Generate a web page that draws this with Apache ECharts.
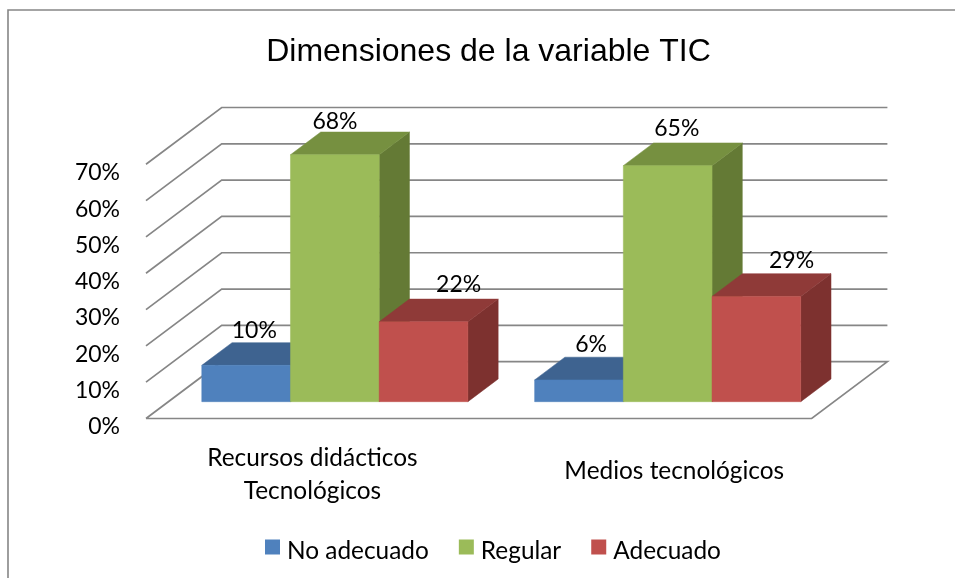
<!DOCTYPE html>
<html><head><meta charset="utf-8">
<style>html,body{margin:0;padding:0;background:#fff}#c{width:955px;height:578px}</style>
<script src="https://cdn.jsdelivr.net/npm/echarts@6/dist/echarts.min.js"></script>
</head><body><div id="c"></div>
<script>
const titleText = 'Dimensiones de la variable TIC';
const categories = ['Recursos didácticos\nTecnológicos', 'Medios tecnológicos'];
const seriesNames = ['No adecuado', 'Regular', 'Adecuado'];
const noAdecuado = [10, 6];
const regular = [68, 65];
const adecuado = [22, 29];
const ticks = [0, 10, 20, 30, 40, 50, 60, 70];

// hand-placed data-label nudges (px) relative to the top face of each bar
const labelNudge = [[[-7, 0], [-3, -1]], [[-15, 2], [-6, -2]], [[20, -2], [20, -1]]];

const FONT = 'Lato';
const TEXT_SIZE = 24.4, NUM_SIZE = 23;
const GRID = '#868686';
const DEPTH = [75.7, -56.8];            // floor depth in pixels
const faces = [
  { front: '#4F81BD', top: '#3E6390', side: '#34537A' },
  { front: '#9BBB59', top: '#769040', side: '#647A35' },
  { front: '#C0504D', top: '#8F3A38', side: '#7D312F' }
];
const BAR_RATIO = 0.2665, FRONT_POS = 0.296, BAR_DEPTH = 0.4;

function poly(points, fill) {
  return { type: 'polygon', shape: { points }, style: { fill, stroke: fill, lineWidth: 0.5 } };
}
function barSeries(idx, values) {
  return {
    type: 'custom', name: seriesNames[idx], coordinateSystem: 'cartesian2d', clip: false,
    itemStyle: { color: faces[idx].front },
    data: values.map((v, i) => [i, v]),
    encode: { x: 0, y: 1 },
    renderItem(params, api) {
      const c = api.value(0), v = api.value(1);
      const band = api.size([1, 0])[0];
      const w = band * BAR_RATIO;
      const ox = DEPTH[0] * FRONT_POS, oy = DEPTH[1] * FRONT_POS;
      const dx = DEPTH[0] * BAR_DEPTH, dy = DEPTH[1] * BAR_DEPTH;
      const base = api.coord([c, 0]), top = api.coord([c, v]);
      const x0 = base[0] + ox + (idx - 1.5) * w, x1 = x0 + w;
      const y0 = base[1] + oy, y1 = top[1] + oy;
      const n = labelNudge[idx][c];
      return { type: 'group', children: [
        poly([[x1, y0], [x1 + dx, y0 + dy], [x1 + dx, y1 + dy], [x1, y1]], faces[idx].side),
        poly([[x0, y1], [x1, y1], [x1 + dx, y1 + dy], [x0 + dx, y1 + dy]], faces[idx].top),
        poly([[x0, y0], [x1, y0], [x1, y1], [x0, y1]], faces[idx].front),
        { type: 'text', z2: 50, style: {
          text: v + '%', x: (x0 + x1) / 2 + dx / 2 + n[0], y: y1 + dy - 12 + n[1],
          textAlign: 'center', textVerticalAlign: 'middle',
          fontFamily: FONT, fontSize: NUM_SIZE, fill: '#000' } }
      ] };
    }
  };
}
const wallSeries = {
  type: 'custom', coordinateSystem: 'cartesian2d', clip: false, silent: true,
  data: ticks.map(t => [0, t]), encode: { x: 0, y: 1 },
  renderItem(params, api) {
    const cs = params.coordSys, v = api.value(1);
    const y = api.coord([0, v])[1], l = cs.x, r = cs.x + cs.width;
    const pts = [[l, y], [l + DEPTH[0], y + DEPTH[1]], [r + DEPTH[0], y + DEPTH[1]]];
    if (v === 0) pts.push([r, y], [l, y]);
    return { type: 'polyline', shape: { points: pts },
      style: { stroke: GRID, lineWidth: 1.7, fill: null } };
  }
};

const chart = echarts.init(document.getElementById('c'), null, { renderer: 'canvas' });
chart.setOption({
  animation: false,
  backgroundColor: '#fff',
  title: { text: titleText, left: 483.5, top: 31, textAlign: 'center',
    textStyle: { fontFamily: 'Liberation Sans', fontSize: 32, fontWeight: 'normal', color: '#000' } },
  graphic: [{ type: 'polyline', silent: true, shape: { points: [[8, 578], [8, 10], [955, 10]] },
    style: { stroke: GRID, lineWidth: 1.6, fill: null } }],
  legend: { data: seriesNames, left: 265, top: 539, padding: 0, icon: 'rect', itemWidth: 15, itemHeight: 15,
    itemGap: 30, selectedMode: false,
    formatter: name => '{t|' + name + '}',
    textStyle: { fontFamily: FONT, fontSize: TEXT_SIZE, color: '#000',
      rich: { t: { fontFamily: FONT, fontSize: TEXT_SIZE, color: '#000', padding: [8, 0, 0, 2] } } } },
  grid: { left: 146, right: 143.3, top: 164.3, bottom: 159.5, containLabel: false },
  xAxis: { type: 'category', data: categories,
    axisLine: { show: false }, axisTick: { show: false }, splitLine: { show: false },
    axisLabel: { interval: 0, margin: 23, verticalAlign: 'top', color: '#000',
      fontFamily: FONT, fontSize: TEXT_SIZE, lineHeight: 33,
      formatter: (val, i) => i === 1 ? '{second|' + val + '}' : val,
      rich: { second: { fontFamily: FONT, fontSize: TEXT_SIZE, lineHeight: 33, color: '#000', padding: [27, 0, 0, 58] } } } },
  yAxis: { type: 'value', min: 0, max: 70, interval: 10,
    axisLine: { show: false }, axisTick: { show: false }, splitLine: { show: false },
    axisLabel: { margin: 26, color: '#000', fontFamily: FONT, fontSize: NUM_SIZE,
      verticalAlign: 'top', lineHeight: 17, formatter: '{value}%' } },
  series: [wallSeries, barSeries(0, noAdecuado), barSeries(1, regular), barSeries(2, adecuado)]
});
</script></body></html>
